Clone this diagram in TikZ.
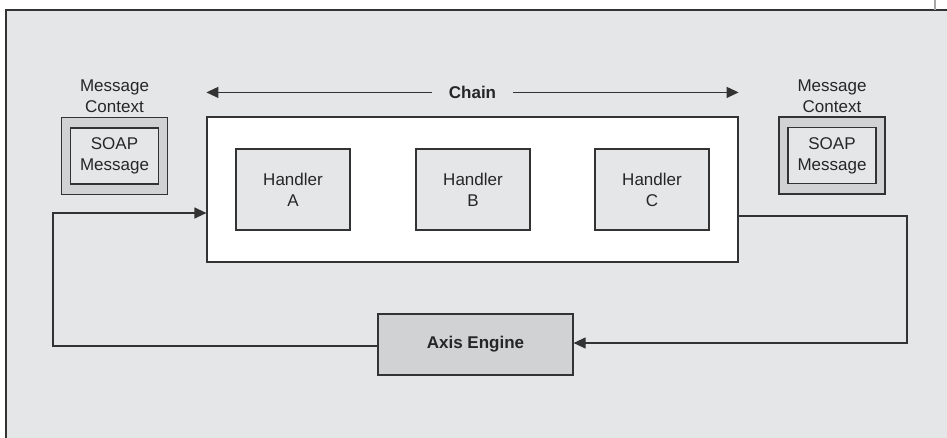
\documentclass[tikz,border=0pt]{standalone}
\usepackage{fontspec}
\setmainfont{Liberation Sans}
\usetikzlibrary{arrows.meta,positioning,calc}
\definecolor{bggray}{HTML}{E5E6E8}
\definecolor{darkgray}{HTML}{D1D2D4}
\definecolor{linegray}{HTML}{333333}
\begin{document}
\begin{tikzpicture}[x=1pt, y=-1pt,
      box/.style={draw=linegray, line width=1.2pt, minimum width=#1, align=center, inner sep=0pt, text=black!85, font=\fontsize{17}{21}\selectfont},
      handler/.style={box=114pt, fill=bggray, minimum height=81pt},
      ctxouter/.style={box=106pt, fill=darkgray, minimum height=77pt},
      ctxinner/.style={box=88pt, fill=bggray, minimum height=56pt},
      label/.style={align=center, inner sep=1pt, text=black!85, font=\fontsize{17}{21}\selectfont},
      arrowstyle/.style={draw=linegray, line width=1.2pt, -{Triangle[length=12pt,width=11pt]}}
    ]
    \useasboundingbox (0,0) rectangle (947,437);
    \begin{scope}
      \clip (0,0) rectangle (947,437);
      \draw[fill=bggray, draw=linegray, line width=1.5pt] (6,10) rectangle (970,460);
      \draw[gray!70, line width=1.2pt] (935,0) -- (935,10);
    \end{scope}

    \node[box=531pt, fill=white, minimum height=145pt] (chain) at (472.5,189.5) {};
    \node[handler] (hA) at (293,189.5) {Handler\\A};
    \node[handler] (hB) at (473,189.5) {Handler\\B};
    \node[handler] (hC) at (652,189.5) {Handler\\C};
    \node[box=195pt, fill=darkgray, minimum height=61pt, font=\fontsize{17}{21}\selectfont\bfseries] (axis) at (475.5,344.5) {Axis Engine};

    \node[ctxouter] (ctxL) at (114.5,156) {};
    \node[ctxinner] (soapL) at (ctxL) {SOAP\\Message};
    \node[label, anchor=south] (ctxLlbl) at ([yshift=3pt]ctxL.north) {Message\\Context};
    \node[ctxouter] (ctxR) at (832,155.5) {};
    \node[ctxinner] (soapR) at (ctxR) {SOAP\\Message};
    \node[label, anchor=south] (ctxRlbl) at ([yshift=3pt]ctxR.north) {Message\\Context};

    \coordinate (chainL) at ([yshift=24pt]chain.north west);
    \coordinate (chainR) at ([yshift=24pt]chain.north east);
    \draw[arrowstyle, {Triangle[length=12pt,width=11pt]}-{Triangle[length=12pt,width=11pt]}] (chainL) -- node[fill=bggray, inner xsep=17pt, font=\fontsize{17}{21}\selectfont\bfseries, text=black!85] (chainlbl) {Chain} (chainR);

    \coordinate (loopL) at (53,346);
    \coordinate (loopR) at (907,343);
    \draw[arrowstyle] (axis.west |- loopL) -- (loopL) |- ([yshift=-23.5pt]chain.west);
    \draw[arrowstyle] ([yshift=-26.5pt]chain.east) -| (loopR) -- (axis.east |- loopR);
  \end{tikzpicture}
\end{document}
